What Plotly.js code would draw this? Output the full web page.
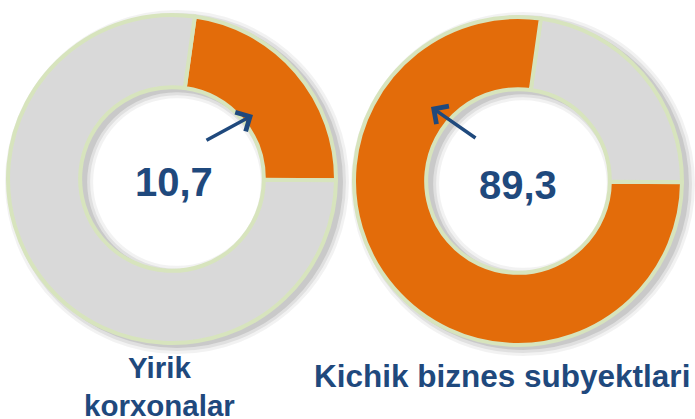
<!DOCTYPE html>
<html>
<head>
<meta charset="utf-8">
<script src="https://cdn.plot.ly/plotly-3.0.1.min.js"></script>
<style>
html,body{margin:0;padding:0;background:#fff;}
#chart{width:695px;height:419px;}
</style>
</head>
<body>
<div id="chart"></div>
<script>
// Data
var groupNames = ["Yirik<br>korxonalar", "Kichik biznes subyektlari"];
var centerLabels = ["10,7", "89,3"];
// visible angular shares of the highlighted / remaining parts of each ring
var leftShares = [22.9, 77.1];   // orange, gray
var rightShares = [22.9, 77.1];  // gray, orange
var sliceNames = ["Highlight", "Rest"];

var W = 695, H = 419;
var ORANGE = "#E36C0A", GRAY = "#D9D9D9", EDGE = "#D7E4BD", BLUE = "#1F497D";

function px(x){ return x / W; }
function py(y){ return 1 - y / H; }

var rings = [
  {cx: 172, cy: 179, r: 164},
  {cx: 518, cy: 181, r: 164}
];
var holeRatio = 0.56;

function dom(rg){
  return {x: [px(rg.cx - rg.r), px(rg.cx + rg.r)], y: [py(rg.cy + rg.r), py(rg.cy - rg.r)]};
}

var traces = [
  {
    type: "pie", values: leftShares, labels: ["L-" + sliceNames[0], "L-" + sliceNames[1]],
    marker: {colors: [ORANGE, GRAY], line: {color: EDGE, width: 4}},
    hole: holeRatio, sort: false, direction: "clockwise", rotation: 8,
    textinfo: "none", hoverinfo: "none", domain: dom(rings[0])
  },
  {
    type: "pie", values: rightShares, labels: ["R-" + sliceNames[0], "R-" + sliceNames[1]],
    marker: {colors: [GRAY, ORANGE], line: {color: EDGE, width: 4}},
    hole: holeRatio, sort: false, direction: "clockwise", rotation: 8,
    textinfo: "none", hoverinfo: "none", domain: dom(rings[1])
  }
];

// soft shadow rings behind each donut
var shapes = [];
rings.forEach(function(rg){
  var mid = rg.r * (1 + holeRatio) / 2;
  var thick = rg.r * (1 - holeRatio);
  [[16, 0.05], [10, 0.07], [4, 0.10]].forEach(function(s){
    var ox = rg.cx + 5, oy = rg.cy + 3;
    shapes.push({
      type: "circle", xref: "paper", yref: "paper", layer: "below",
      x0: px(ox - mid), x1: px(ox + mid), y0: py(oy + mid), y1: py(oy - mid),
      line: {color: "rgba(0,0,0," + s[1] + ")", width: thick + s[0]},
      fillcolor: "rgba(0,0,0,0)"
    });
  });
});

var font = "Arial, 'Liberation Sans', sans-serif";
var annotations = [
  {text: "<b>" + centerLabels[0] + "</b>", x: px(173.5), y: py(182), xref: "paper", yref: "paper",
   showarrow: false, xanchor: "center", yanchor: "middle", font: {family: font, size: 40, color: BLUE}},
  {text: "<b>" + centerLabels[1] + "</b>", x: px(518), y: py(185), xref: "paper", yref: "paper",
   showarrow: false, xanchor: "center", yanchor: "middle", font: {family: font, size: 40, color: BLUE}},
  {text: "<b>" + groupNames[0] + "</b>", x: px(159), y: py(349), xref: "paper", yref: "paper",
   showarrow: false, xanchor: "center", yanchor: "top", font: {family: font, size: 29.5, color: BLUE}},
  {text: "<b>" + groupNames[1] + "</b>", x: px(501.5), y: py(376), xref: "paper", yref: "paper",
   showarrow: false, xanchor: "center", yanchor: "middle", font: {family: font, size: 31.5, color: BLUE}},
  {text: "", x: px(253), y: py(115), xref: "paper", yref: "paper", showarrow: true,
   ax: -48, ay: 26, arrowhead: 4, arrowsize: 1.2, arrowwidth: 3.5, arrowcolor: BLUE, standoff: 0},
  {text: "", x: px(431), y: py(107), xref: "paper", yref: "paper", showarrow: true,
   ax: 46, ay: 32, arrowhead: 4, arrowsize: 1.2, arrowwidth: 3.5, arrowcolor: BLUE, standoff: 0}
];

var layout = {
  width: W, height: H, margin: {l: 0, r: 0, t: 0, b: 0},
  paper_bgcolor: "#fff", plot_bgcolor: "#fff", showlegend: false,
  shapes: shapes, annotations: annotations
};

Plotly.newPlot("chart", traces, layout, {displayModeBar: false, staticPlot: true});
</script>
</body>
</html>
